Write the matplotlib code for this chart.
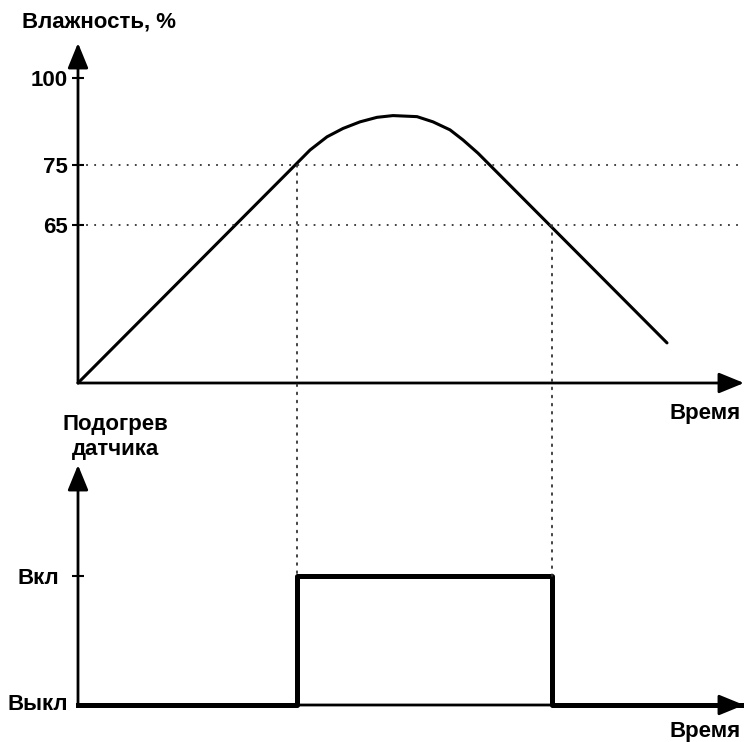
import numpy as np
import matplotlib.pyplot as plt
from matplotlib.patches import ConnectionPatch

plt.rcParams['font.family'] = ['Liberation Sans', 'DejaVu Sans']
plt.rcParams['font.weight'] = 'bold'

# влажность (схематичная шкала)
t_hum = [0, 21.6, 23.2, 24.9, 26.5, 28.2, 29.9, 31.5, 33.9, 35.5, 37.2, 38.5, 40.0, 58.9]
hum = [0, 74.8, 79.3, 83.1, 85.5, 87.4, 88.7, 89.2, 88.9, 87.4, 85.1, 82.2, 78.4, 16.5]
hum_ticks = [65, 75, 100]
hum_labels = ['65', '75', '100']
on_level = 75
off_level = 65

# подогрев датчика
t_on = 21.9
t_off = 47.4
t_end = 66.6
t_heat = [0, t_on, t_off, t_end]
heat = [0, 1, 0, 0]

# шкала по оси Y не линейная - как на рисунке
scale_h = [0, 65, 75, 100, 120]
scale_px = [0, 158, 218, 305, 374.6]
fwd = lambda v: np.interp(v, scale_h, scale_px)
inv = lambda v: np.interp(v, scale_px, scale_h)

W, H = 744, 742
fig = plt.figure(figsize=(W / 100, H / 100), dpi=100)
ax1 = fig.add_axes([78 / W, 1 - 383 / H, 666 / W, 340 / H])
ax2 = fig.add_axes([78 / W, 1 - 705 / H, 666 / W, 240 / H])

arrow = dict(arrowstyle='-|>,head_length=1.1,head_width=0.45', mutation_scale=14,
             lw=2, color='k', shrinkA=0, shrinkB=0)

for ax in (ax1, ax2):
    for s in ax.spines.values():
        s.set_visible(False)
    ax.set_xlim(0, t_end)
    ax.set_xticks([])
    ax.annotate('', xy=(1, 0), xytext=(0, 0), xycoords='axes fraction', arrowprops=arrow)
    ax.annotate('', xy=(0, 1), xytext=(0, 0), xycoords='axes fraction', arrowprops=arrow)

# верхний график
ax1.set_yscale('function', functions=(fwd, inv))
ax1.set_ylim(0, 110.06)
ax1.plot(t_hum, hum, color='k', lw=2.2, clip_on=False, solid_capstyle='round',
         solid_joinstyle='round')
for lv in (on_level, off_level):
    ax1.axhline(lv, xmin=0, xmax=1, color='#333333', lw=1.3, ls=(0, (1, 3.5)), clip_on=False)
ax1.set_yticks(hum_ticks, hum_labels)
ax1.tick_params(axis='y', direction='inout', length=9, width=1.5, pad=3, labelsize=16)

# нижний график
ax2.set_ylim(0, 240 / 129)
ax2.plot(t_heat, heat, drawstyle='steps-post', color='k', lw=3.6, clip_on=False, zorder=3)
ax2.set_yticks([1], ['Вкл'])
ax2.tick_params(axis='y', direction='inout', length=9, width=1.5, pad=9, labelsize=16)
ax2.text(-10 / 666, 0, 'Выкл', transform=ax2.get_yaxis_transform(), ha='right', va='center',
         fontsize=16)

# пунктир от кривой к переключению
for t, lv in ((t_on, on_level), (t_off, off_level)):
    con = ConnectionPatch(xyA=(t, lv), coordsA=ax1.transData, xyB=(t, 1), coordsB=ax2.transData,
                          color='#333333', lw=1.3, ls=(0, (1, 3.5)))
    fig.add_artist(con)

fig.text(22 / W, 1 - 22 / H, 'Влажность, %', ha='left', va='center', fontsize=16)
fig.text(115 / W, 1 - 437 / H, 'Подогрев\nдатчика', ha='center', va='center', fontsize=16,
         linespacing=1.25)
fig.text(741 / W, 1 - 413 / H, 'Время', ha='right', va='center', fontsize=16)
fig.text(741 / W, 1 - 732 / H, 'Время', ha='right', va='center', fontsize=16)

fig.savefig('out.png', dpi=100)
